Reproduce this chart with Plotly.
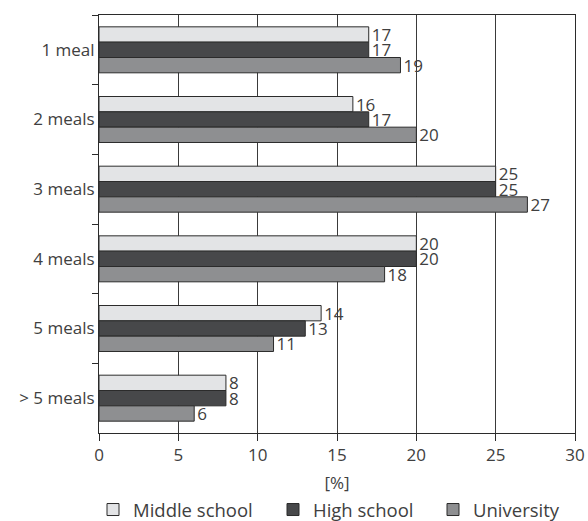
import plotly.graph_objects as go

categories = ["1 meal", "2 meals", "3 meals", "4 meals", "5 meals", "> 5 meals"]
middle_school = [17, 16, 25, 20, 14, 8]
high_school = [17, 17, 25, 20, 13, 8]
university = [19, 20, 27, 18, 11, 6]

series = [
    ("Middle school", middle_school, "#e3e4e6"),
    ("High school", high_school, "#47484a"),
    ("University", university, "#8e8f91"),
]

FONT = "Open Sans"
TEXT = "#404040"
SIZE = 17

# plot area geometry in pixels (used to place each legend entry)
W, H = 588, 521
ML, MR, MT, MB = 99, 13, 15, 88
PW = W - ML - MR
PH = H - MT - MB


def font(size=SIZE):
    return dict(family=FONT, size=size, color=TEXT, weight=400)


legend_left_px = [93, 273, 433]
legend_top_px = 491
legend_names = ["legend", "legend2", "legend3"]

fig = go.Figure()
for (name, vals, color), lg in zip(series, legend_names):
    fig.add_trace(go.Bar(
        y=categories, x=vals, name=name, orientation="h",
        marker=dict(color=color, line=dict(color="#2b2b2b", width=1)),
        text=[str(v) for v in vals], textposition="outside",
        constraintext="none",
        textfont=font(), outsidetextfont=font(),
        cliponaxis=False, legend=lg,
    ))

layout_legends = {}
for lg, px in zip(legend_names, legend_left_px):
    layout_legends[lg] = dict(
        x=(px - ML) / PW, xanchor="left",
        y=-(legend_top_px - (MT + PH)) / PH, yanchor="top",
        font=font(18.5), bgcolor="rgba(0,0,0,0)",
        itemwidth=30, borderwidth=0,
    )

fig.update_layout(
    template="none",
    width=W, height=H,
    margin=dict(l=ML, r=MR, t=MT, b=MB, autoexpand=False),
    paper_bgcolor="white", plot_bgcolor="white",
    barmode="group", bargap=0.34, bargroupgap=0,
    font=font(),
    showlegend=True,
    **layout_legends,
)

fig.update_xaxes(
    range=[0, 30], dtick=5, tick0=0,
    showgrid=True, gridcolor="#3a3a3a", gridwidth=1,
    showline=True, linecolor="#2b2b2b", linewidth=1, mirror=True,
    ticks="outside", ticklen=7, tickcolor="#2b2b2b",
    zeroline=False, automargin=False,
    title=dict(text="[%]", standoff=11, font=font()),
    tickfont=font(),
)

fig.update_yaxes(
    categoryorder="array", categoryarray=categories, autorange="reversed",
    showline=True, linecolor="#2b2b2b", linewidth=1, mirror=True,
    ticks="outside", ticklen=6, tickcolor="#2b2b2b", tickson="boundaries",
    showgrid=False, zeroline=False, automargin=False,
    tickfont=font(),
)

fig.write_html("out.html")
